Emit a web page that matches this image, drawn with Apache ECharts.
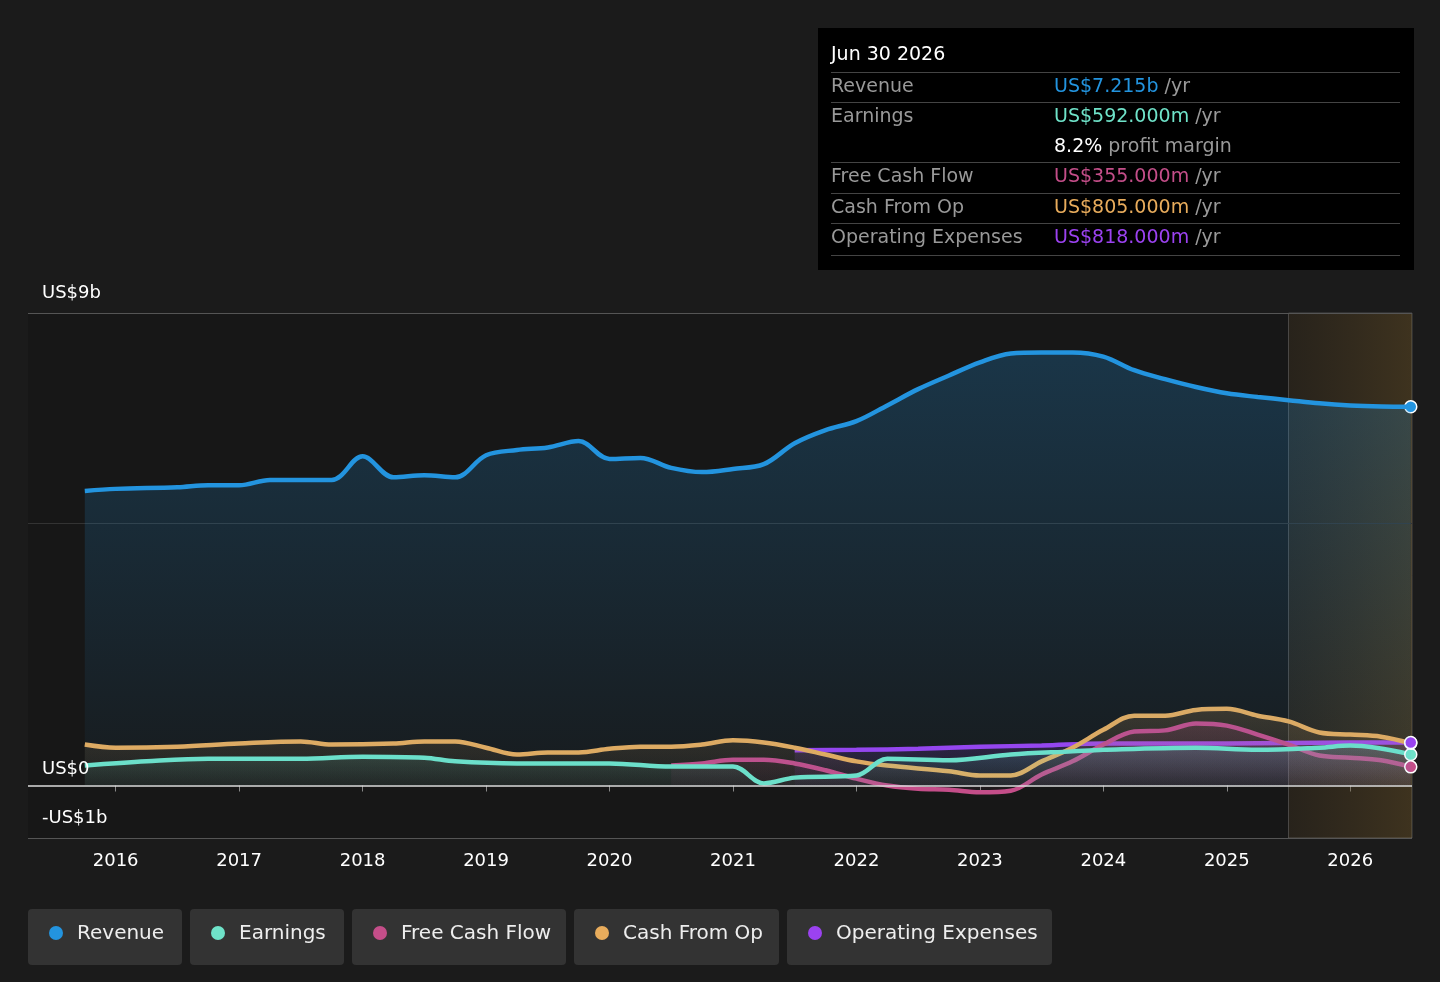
<!DOCTYPE html>
<html><head><meta charset="utf-8">
<script src="https://cdn.jsdelivr.net/npm/echarts@6/dist/echarts.min.js"></script>
<style>html,body{margin:0;background:#1b1b1b}#c{width:1440px;height:982px}</style>
</head><body><div id="c"></div>
<script>
// values in US$ billions, x in decimal years
const revenue = [[2015.75,5.61],[2016,5.65],[2016.5,5.68],[2016.75,5.72],[2017,5.72],[2017.25,5.82],[2017.75,5.82],[2018,6.27],[2018.25,5.87],[2018.5,5.91],[2018.75,5.87],[2019,6.29],[2019.25,6.39],[2019.5,6.44],[2019.75,6.56],[2020,6.22],[2020.25,6.24],[2020.5,6.05],[2020.75,5.97],[2021,6.03],[2021.25,6.12],[2021.5,6.52],[2021.75,6.77],[2022,6.94],[2022.25,7.24],[2022.5,7.55],[2022.75,7.81],[2023,8.06],[2023.25,8.23],[2023.5,8.25],[2023.75,8.25],[2024,8.17],[2024.25,7.91],[2024.5,7.74],[2024.75,7.59],[2025,7.47],[2025.25,7.40],[2025.5,7.34],[2025.75,7.28],[2026,7.24],[2026.25,7.22],[2026.49,7.215]];
const earnings = [[2015.75,0.38],[2016.25,0.46],[2016.75,0.51],[2017.5,0.51],[2018,0.55],[2018.5,0.53],[2018.75,0.46],[2019.25,0.42],[2020,0.42],[2020.5,0.36],[2021,0.36],[2021.25,0.04],[2021.5,0.15],[2022,0.19],[2022.25,0.51],[2022.75,0.48],[2023.25,0.59],[2023.75,0.65],[2024,0.68],[2024.75,0.72],[2025.25,0.68],[2025.75,0.72],[2026,0.76],[2026.49,0.592]];
const freeCashFlow = [[2020.5,0.38],[2020.75,0.42],[2021,0.49],[2021.25,0.49],[2021.5,0.42],[2021.75,0.29],[2022,0.13],[2022.25,0],[2022.5,-0.06],[2022.75,-0.08],[2023,-0.13],[2023.25,-0.10],[2023.5,0.21],[2023.75,0.46],[2024,0.78],[2024.25,1.03],[2024.5,1.05],[2024.75,1.18],[2025,1.14],[2025.25,0.97],[2025.5,0.78],[2025.75,0.57],[2026,0.53],[2026.25,0.48],[2026.49,0.355]];
const cashFromOp = [[2015.75,0.78],[2016,0.72],[2016.5,0.74],[2017,0.80],[2017.5,0.84],[2017.75,0.78],[2018.25,0.80],[2018.5,0.84],[2018.75,0.84],[2019,0.72],[2019.25,0.59],[2019.5,0.63],[2019.75,0.63],[2020,0.70],[2020.25,0.74],[2020.5,0.74],[2020.75,0.78],[2021,0.86],[2021.25,0.82],[2021.5,0.72],[2021.75,0.59],[2022,0.46],[2022.25,0.38],[2022.75,0.27],[2023,0.19],[2023.25,0.19],[2023.5,0.46],[2023.75,0.72],[2024,1.06],[2024.25,1.33],[2024.5,1.33],[2024.75,1.44],[2025,1.46],[2025.25,1.33],[2025.5,1.22],[2025.75,1.01],[2026,0.97],[2026.25,0.93],[2026.49,0.805]];
const operatingExpenses = [[2021.5,0.67],[2022,0.68],[2022.5,0.70],[2023,0.74],[2023.5,0.76],[2024,0.80],[2025,0.80],[2026,0.82],[2026.49,0.818]];
const yearTicks = [2016,2017,2018,2019,2020,2021,2022,2023,2024,2025,2026];
const forecastStart = 2025.5;

const names = ['Revenue','Earnings','Free Cash Flow','Cash From Op','Operating Expenses'];
const colors = ['#2394df','#6fe3c9','#c44e89','#e8ac5c','#9b42f0'];
const datasets = [revenue, earnings, freeCashFlow, cashFromOp, operatingExpenses];

const chart = echarts.init(document.getElementById('c'));
const font = 'DejaVu Sans';

const series = datasets.map((d, i) => ({
  type: 'line', name: names[i], data: d, smooth: 0.35, showSymbol: false,
  lineStyle: { width: 4.5, color: colors[i] },
  itemStyle: { color: colors[i] },
  areaStyle: { color: new echarts.graphic.LinearGradient(0,0,0,1,[
    {offset:0,color:echarts.color.modifyAlpha(colors[i], i===0?0.35:0.25)},
    {offset:1,color:echarts.color.modifyAlpha(colors[i], i===0?0.05:0.05)}]) },
  z: 5 - i,
  markPoint: { symbol: 'circle', symbolSize: 12, data: [{ coord: d[d.length-1], itemStyle:{color:colors[i], borderColor:'#fff', borderWidth:1.5} }], label:{show:false} }
}));

series.push({
  type: 'line', data: [], silent: true,
  markArea: { silent: true, data: [[{ xAxis: forecastStart, itemStyle: { color: new echarts.graphic.LinearGradient(0,0,1,0,[{offset:0,color:'rgba(90,70,40,0.25)'},{offset:1,color:'rgba(110,85,40,0.45)'}]), borderColor:'rgba(255,255,255,0.2)', borderWidth:1 } }, { xAxis: 2026.5 }]] },
  markLine: { silent: true, symbol: 'none', animation: false,
    label: { position: 'insideStartTop', color: '#fff', fontSize: 18, fontFamily: font, distance: [14, 11] },
    data: [
      { yAxis: 9, lineStyle: { color: '#555', width: 1, type: 'solid' }, label: { formatter: 'US$9b' } },
      { yAxis: 5, lineStyle: { color: '#333', width: 1, type: 'solid' }, label: { show: false } },
      { yAxis: 0, lineStyle: { color: '#ddd', width: 1.5, type: 'solid' }, label: { formatter: 'US$0', distance: [14, 7] } },
      { yAxis: -1, lineStyle: { color: '#555', width: 1, type: 'solid' }, label: { formatter: '-US$1b' } }
    ] }
});

// tooltip-like box
const rows = [
  ['Revenue', 'US$7.215b', colors[0], ' /yr'],
  ['Earnings', 'US$592.000m', colors[1], ' /yr'],
  ['', '8.2%', '#fff', ' profit margin'],
  ['Free Cash Flow', 'US$355.000m', colors[2], ' /yr'],
  ['Cash From Op', 'US$805.000m', colors[3], ' /yr'],
  ['Operating Expenses', 'US$818.000m', colors[4], ' /yr']
];
const rowY = [87, 117, 147, 177, 208, 238];
const graphic = [
  { type: 'rect', shape: { x: 818, y: 28, width: 596, height: 242 }, style: { fill: '#000' } },
  { type: 'text', x: 831, y: 55, style: { text: 'Jun 30 2026', fill: '#fff', fontSize: 19, fontFamily: font, verticalAlign: 'middle' } }
];
[72, 102, 162, 193, 223, 255].forEach(y => graphic.push({ type: 'rect', shape: { x: 831, y: y, width: 569, height: 1 }, style: { fill: '#444' } }));
rows.forEach((r, i) => {
  graphic.push({ type: 'text', x: 831, y: rowY[i], style: { text: r[0], fill: '#999', fontSize: 19, fontFamily: font, verticalAlign: 'middle' } });
  graphic.push({ type: 'text', x: 1054, y: rowY[i], style: { rich: { v: { fill: r[2], fontSize: 19, fontFamily: font }, u: { fill: '#999', fontSize: 19, fontFamily: font } }, text: '{v|' + r[1] + '}{u|' + r[3] + '}', verticalAlign: 'middle' } });
});
// legend chips
const chipW = [154, 154, 214, 205, 265];
let lx = 28;
names.forEach((n, i) => {
  graphic.push({ type: 'rect', shape: { x: lx, y: 909, width: chipW[i], height: 56, r: 4 }, style: { fill: '#333' } });
  graphic.push({ type: 'circle', shape: { cx: lx + 28, cy: 933, r: 7 }, style: { fill: colors[i] } });
  graphic.push({ type: 'text', x: lx + 49, y: 934, style: { text: n, fill: '#eee', fontSize: 20, fontFamily: font, verticalAlign: 'middle' } });
  lx += chipW[i] + 8;
});

chart.setOption({
  backgroundColor: '#1b1b1b',
  animation: false,
  grid: { left: 28, right: 28, top: 313, bottom: 144, show: true, backgroundColor: '#171717', borderWidth: 0 },
  xAxis: { type: 'value', min: 2015.29, max: 2026.5,
    axisLine: { show: false }, splitLine: { show: false },
    axisTick: { show: true, customValues: yearTicks, length: 6, lineStyle: { color: '#888' } },
    axisLabel: { customValues: yearTicks, color: '#fff', fontSize: 18, fontFamily: font, margin: 14, formatter: v => String(Math.round(v)) } },
  yAxis: { type: 'value', min: -1, max: 9, show: false, splitLine: { show: false } },
  series,
  graphic
});
</script></body></html>
